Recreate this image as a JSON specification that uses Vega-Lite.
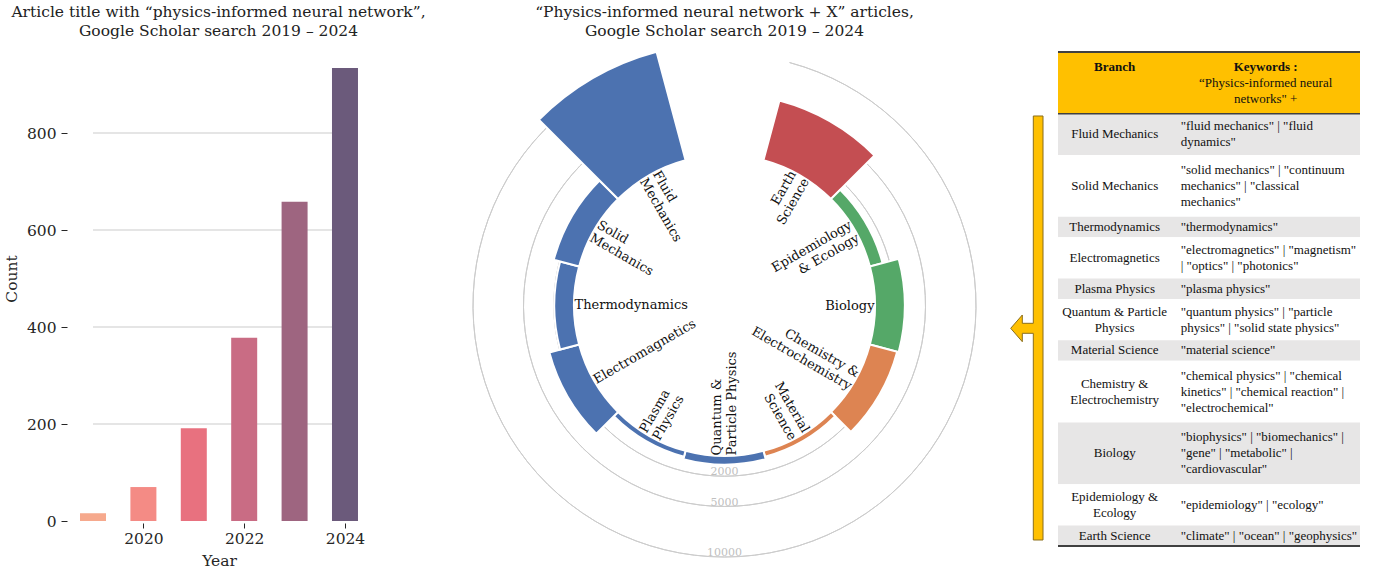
{
  "$schema": "https://vega.github.io/schema/vega-lite/v6.json",
  "autosize": {"type": "pad"},
  "padding": {"left": 4, "top": 4, "right": 5, "bottom": 0},
  "background": "white",
  "spacing": 64,
  "bounds": "flush",
  "resolve": {
    "scale": {"x": "independent", "y": "independent", "color": "independent"},
    "axis": {"x": "independent", "y": "independent"}
  },
  "datasets": {
    "years": [
      {"year": 2019, "count": 16},
      {"year": 2020, "count": 70},
      {"year": 2021, "count": 191},
      {"year": 2022, "count": 378},
      {"year": 2023, "count": 658},
      {"year": 2024, "count": 934}
    ],
    "branches": [
      {"idx": 0, "branch": "Earth Science", "label": "Earth\nScience", "group": "Earth", "articles": 6100},
      {"idx": 1, "branch": "Epidemiology & Ecology", "label": "Epidemiology\n& Ecology", "group": "Life", "articles": 1300},
      {"idx": 2, "branch": "Biology", "label": "Biology", "group": "Life", "articles": 2950},
      {"idx": 3, "branch": "Chemistry & Electrochemistry", "label": "Chemistry &\nElectrochemistry", "group": "Chemistry", "articles": 2800},
      {"idx": 4, "branch": "Material Science", "label": "Material\nScience", "group": "Chemistry", "articles": 600},
      {"idx": 5, "branch": "Quantum & Particle Physics", "label": "Quantum &\nParticle Physics", "group": "Physics", "articles": 850},
      {"idx": 6, "branch": "Plasma Physics", "label": "Plasma\nPhysics", "group": "Physics", "articles": 600},
      {"idx": 7, "branch": "Electromagnetics", "label": "Electromagnetics", "group": "Physics", "articles": 3050},
      {"idx": 8, "branch": "Thermodynamics", "label": "Thermodynamics", "group": "Physics", "articles": 1950},
      {"idx": 9, "branch": "Solid Mechanics", "label": "Solid\nMechanics", "group": "Physics", "articles": 2600},
      {"idx": 10, "branch": "Fluid Mechanics", "label": "Fluid\nMechanics", "group": "Physics", "articles": 11100}
    ],
    "table": [
      {"idx": 0, "lines": 3, "branch": "Branch", "kwhead": "Keywords :", "keywords": "“Physics-informed neural\nnetworks\"  +"},
      {"idx": 1, "lines": 2, "branch": "Fluid Mechanics", "keywords": "\"fluid mechanics\" | \"fluid\ndynamics\""},
      {"idx": 2, "lines": 3, "branch": "Solid Mechanics", "keywords": "\"solid mechanics\" | \"continuum\nmechanics\" | \"classical\nmechanics\""},
      {"idx": 3, "lines": 1, "branch": "Thermodynamics", "keywords": "\"thermodynamics\""},
      {"idx": 4, "lines": 2, "branch": "Electromagnetics", "keywords": "\"electromagnetics\" | \"magnetism\"\n| \"optics\" | \"photonics\""},
      {"idx": 5, "lines": 1, "branch": "Plasma Physics", "keywords": "\"plasma physics\""},
      {"idx": 6, "lines": 2, "branch": "Quantum & Particle\nPhysics", "keywords": "\"quantum physics\" | \"particle\nphysics\" | \"solid state physics\""},
      {"idx": 7, "lines": 1, "branch": "Material Science", "keywords": "\"material science\""},
      {"idx": 8, "lines": 3, "branch": "Chemistry &\nElectrochemistry", "keywords": "\"chemical physics\" | \"chemical\nkinetics\" | \"chemical reaction\" |\n\"electrochemical\""},
      {"idx": 9, "lines": 3, "branch": "Biology", "keywords": "\"biophysics\" | \"biomechanics\" |\n\"gene\" | \"metabolic\" |\n\"cardiovascular\""},
      {"idx": 10, "lines": 2, "branch": "Epidemiology &\nEcology", "keywords": "\"epidemiology\" | \"ecology\""},
      {"idx": 11, "lines": 1, "branch": "Earth Science", "keywords": "\"climate\" | \"ocean\" | \"geophysics\""}
    ]
  },
  "hconcat": [
    {
      "width": 298,
      "height": 485,
      "title": {"text": ["Article title with “physics-informed neural network”,", "Google Scholar search 2019 – 2024"], "dx": -23.5},
      "encoding": {
        "y": {"field": "count", "type": "quantitative", "scale": {"domain": [0, 1000], "nice": false},
              "axis": {"values": [0, 200, 400, 600, 800], "offset": 26, "tickSize": 6, "labelPadding": 5, "title": "Count", "titlePadding": 7}}
      },
      "layer": [
        {
          "data": {"values": [{"count": 200}, {"count": 400}, {"count": 600}, {"count": 800}]},
          "mark": {"type": "rule", "color": "#cccccc", "strokeWidth": 1.1},
          "encoding": {"x": {"datum": 2019, "type": "quantitative"}, "x2": {"datum": 2024}}
        },
        {
          "data": {"name": "years"},
          "mark": {"type": "bar", "width": 26, "orient": "vertical"},
          "encoding": {
            "x": {"field": "year", "type": "quantitative", "scale": {"domain": [2019, 2024.913], "nice": false, "zero": false, "padding": 0},
                  "axis": {"values": [2020, 2022, 2024], "format": "d", "offset": 2, "tickSize": 5, "labelPadding": 3, "title": "Year", "titleX": 126, "titlePadding": 7}},
            "color": {"field": "year", "type": "ordinal", "legend": null,
                      "scale": {"range": ["#f6a98d", "#f48b85", "#e8717f", "#c96c84", "#9e6580", "#6b5a7b"]}}
          }
        }
      ]
    },
    {
      "width": 539,
      "height": 539,
      "title": {"text": ["“Physics-informed neural network + X” articles,", "Google Scholar search 2019 – 2024"]},
      "resolve": {"scale": {"theta": "independent"}},
      "layer": [
        {
          "data": {"values": [{"v": 2000}, {"v": 5000}, {"v": 10000}]},
          "mark": {"type": "arc", "filled": false, "stroke": "#cccccc", "strokeWidth": 1},
          "encoding": {
            "theta": {"datum": 0, "type": "quantitative", "scale": {"type": "linear", "domain": [0, 11], "range": [0.2618, 6.0214], "zero": false, "nice": false}},
            "theta2": {"datum": 11},
            "radius": {"field": "v", "type": "quantitative", "scale": {"type": "linear", "domain": [0, 12000], "range": [150.5, 271.7], "zero": false, "nice": false}},
            "radius2": {"field": "v"}
          }
        },
        {
          "data": {"name": "branches"},
          "mark": {"type": "arc", "stroke": "white", "strokeWidth": 2},
          "encoding": {
            "theta": {"field": "idx", "type": "ordinal", "scale": {"type": "band", "domain": [0, 1, 2, 3, 4, 5, 6, 7, 8, 9, 10], "range": [0.2618, 6.0214], "paddingInner": 0, "paddingOuter": 0}},
            "radius": {"field": "articles", "type": "quantitative", "scale": {"type": "linear", "domain": [0, 12000], "range": [150.5, 271.7], "zero": false, "nice": false}},
            "radius2": {"datum": 0},
            "color": {"field": "group", "type": "nominal", "legend": null,
                      "scale": {"domain": ["Physics", "Chemistry", "Life", "Earth"], "range": ["#4c72b0", "#dd8452", "#55a868", "#c44e52"]}}
          }
        },
        {
          "data": {"values": [{"v": 2000}, {"v": 5000}, {"v": 10000}]},
          "mark": {"type": "text", "align": "center", "baseline": "alphabetic", "fontSize": 11, "color": "#c0c0c0", "dy": -1},
          "encoding": {
            "theta": {"datum": 5.5, "type": "quantitative", "scale": {"type": "linear", "domain": [0, 11], "range": [0.2618, 6.0214], "zero": false, "nice": false}},
            "radius": {"field": "v", "type": "quantitative", "scale": {"type": "linear", "domain": [0, 12000], "range": [150.5, 271.7], "zero": false, "nice": false}},
            "text": {"field": "v", "type": "nominal"}
          }
        },
        {
          "data": {"name": "branches"},
          "mark": {"type": "text", "radius": 150, "align": "left", "baseline": "middle", "fontSize": 13, "lineBreak": "\n", "lineHeight": 15, "color": "#111"},
          "encoding": {
            "theta": {"field": "idx", "type": "ordinal", "bandPosition": 0.5, "scale": {"type": "band", "domain": [0, 1, 2, 3, 4, 5, 6, 7, 8, 9, 10], "range": [0.2618, 6.0214], "paddingInner": 0, "paddingOuter": 0}},
            "text": {"condition": {"test": "indexof([7, 8], datum.idx) >= 0", "field": "label", "type": "nominal"}, "value": ""},
            "angle": {"field": "idx", "type": "quantitative", "legend": null,
                      "scale": {"type": "threshold", "domain": [0.5, 1.5, 2.5, 3.5, 4.5, 5.5, 6.5, 7.5, 8.5, 9.5], "range": [-60, -30, 0, 30, 60, -90, -60, -30, 0, 30, 60]}}
          }
        },
        {
          "data": {"name": "branches"},
          "mark": {"type": "text", "radius": 150, "align": "left", "baseline": "middle", "fontSize": 13, "lineBreak": "\n", "lineHeight": 15, "dy": -7.5, "color": "#111"},
          "encoding": {
            "theta": {"field": "idx", "type": "ordinal", "bandPosition": 0.5, "scale": {"type": "band", "domain": [0, 1, 2, 3, 4, 5, 6, 7, 8, 9, 10], "range": [0.2618, 6.0214], "paddingInner": 0, "paddingOuter": 0}},
            "text": {"condition": {"test": "indexof([5, 6, 9, 10], datum.idx) >= 0", "field": "label", "type": "nominal"}, "value": ""},
            "angle": {"field": "idx", "type": "quantitative", "legend": null,
                      "scale": {"type": "threshold", "domain": [0.5, 1.5, 2.5, 3.5, 4.5, 5.5, 6.5, 7.5, 8.5, 9.5], "range": [-60, -30, 0, 30, 60, -90, -60, -30, 0, 30, 60]}}
          }
        },
        {
          "data": {"name": "branches"},
          "mark": {"type": "text", "radius": 150, "align": "right", "baseline": "middle", "fontSize": 13, "lineBreak": "\n", "lineHeight": 15, "color": "#111"},
          "encoding": {
            "theta": {"field": "idx", "type": "ordinal", "bandPosition": 0.5, "scale": {"type": "band", "domain": [0, 1, 2, 3, 4, 5, 6, 7, 8, 9, 10], "range": [0.2618, 6.0214], "paddingInner": 0, "paddingOuter": 0}},
            "text": {"condition": {"test": "datum.idx == 2", "field": "label", "type": "nominal"}, "value": ""},
            "angle": {"field": "idx", "type": "quantitative", "legend": null,
                      "scale": {"type": "threshold", "domain": [0.5, 1.5, 2.5, 3.5, 4.5, 5.5, 6.5, 7.5, 8.5, 9.5], "range": [-60, -30, 0, 30, 60, -90, -60, -30, 0, 30, 60]}}
          }
        },
        {
          "data": {"name": "branches"},
          "mark": {"type": "text", "radius": 150, "align": "right", "baseline": "middle", "fontSize": 13, "lineBreak": "\n", "lineHeight": 15, "dy": -7.5, "color": "#111"},
          "encoding": {
            "theta": {"field": "idx", "type": "ordinal", "bandPosition": 0.5, "scale": {"type": "band", "domain": [0, 1, 2, 3, 4, 5, 6, 7, 8, 9, 10], "range": [0.2618, 6.0214], "paddingInner": 0, "paddingOuter": 0}},
            "text": {"condition": {"test": "indexof([0, 1, 3, 4], datum.idx) >= 0", "field": "label", "type": "nominal"}, "value": ""},
            "angle": {"field": "idx", "type": "quantitative", "legend": null,
                      "scale": {"type": "threshold", "domain": [0.5, 1.5, 2.5, 3.5, 4.5, 5.5, 6.5, 7.5, 8.5, 9.5], "range": [-60, -30, 0, 30, 60, -90, -60, -30, 0, 30, 60]}}
          }
        }
      ]
    },
    {
      "width": 302,
      "height": 510,
      "layer": [
        {
          "data": {"name": "table"},
          "mark": {"type": "bar", "width": 302, "orient": "vertical"},
          "encoding": {
            "x": {"datum": 0.5, "type": "quantitative", "scale": {"domain": [0, 1], "nice": false, "zero": false, "padding": 0}, "axis": null},
            "y": {"field": "lines", "type": "quantitative", "stack": "zero", "scale": {"domain": [-0.7773, 24], "reverse": true, "nice": false, "zero": false}, "axis": null},
            "order": {"field": "idx", "type": "quantitative"},
            "color": {"field": "idx", "type": "ordinal", "legend": null,
                      "scale": {"domain": [0, 1, 2, 3, 4, 5, 6, 7, 8, 9, 10, 11], "range": ["#ffc000", "#e7e6e6", "#ffffff", "#e7e6e6", "#ffffff", "#e7e6e6", "#ffffff", "#e7e6e6", "#ffffff", "#e7e6e6", "#ffffff", "#e7e6e6"]}}
          }
        },
        {
          "data": {"values": [{}]},
          "mark": {"type": "rule", "color": "#404040", "strokeWidth": 2},
          "encoding": {"x": {"datum": 0}, "x2": {"datum": 1}, "y": {"datum": 0}}
        },
        {
          "data": {"values": [{}]},
          "mark": {"type": "rule", "color": "#404040", "strokeWidth": 1.5},
          "encoding": {"x": {"datum": 0}, "x2": {"datum": 1}, "y": {"datum": 3}}
        },
        {
          "data": {"values": [{}]},
          "mark": {"type": "rule", "color": "#404040", "strokeWidth": 2},
          "encoding": {"x": {"datum": 0}, "x2": {"datum": 1}, "y": {"datum": 24}}
        },
        {
          "data": {"name": "table"},
          "mark": {"type": "text", "align": "center", "baseline": "middle", "font": "Liberation Serif", "fontSize": 13, "lineBreak": "\n", "lineHeight": 16, "color": "#111"},
          "encoding": {
            "x": {"datum": 0.1877},
            "y": {"field": "lines", "type": "quantitative", "stack": "zero", "bandPosition": 0.5},
            "order": {"field": "idx", "type": "quantitative"},
            "text": {"condition": {"test": "datum.idx > 0 && indexof([6, 8, 10], datum.idx) < 0", "field": "branch", "type": "nominal"}, "value": ""}
          }
        },
        {
          "data": {"name": "table"},
          "mark": {"type": "text", "align": "center", "baseline": "middle", "font": "Liberation Serif", "fontSize": 13, "lineBreak": "\n", "lineHeight": 16, "dy": -8, "color": "#111"},
          "encoding": {
            "x": {"datum": 0.1877},
            "y": {"field": "lines", "type": "quantitative", "stack": "zero", "bandPosition": 0.5},
            "order": {"field": "idx", "type": "quantitative"},
            "text": {"condition": {"test": "indexof([6, 8, 10], datum.idx) >= 0", "field": "branch", "type": "nominal"}, "value": ""}
          }
        },
        {
          "data": {"name": "table"},
          "mark": {"type": "text", "align": "center", "baseline": "middle", "font": "Liberation Serif", "fontSize": 13, "fontWeight": "bold", "dy": -16, "color": "#111"},
          "encoding": {
            "x": {"datum": 0.1877},
            "y": {"field": "lines", "type": "quantitative", "stack": "zero", "bandPosition": 0.5},
            "order": {"field": "idx", "type": "quantitative"},
            "text": {"condition": {"test": "datum.idx == 0", "field": "branch", "type": "nominal"}, "value": ""}
          }
        },
        {
          "data": {"name": "table"},
          "mark": {"type": "text", "align": "center", "baseline": "middle", "font": "Liberation Serif", "fontSize": 13, "fontWeight": "bold", "dy": -16, "color": "#111"},
          "encoding": {
            "x": {"datum": 0.6876},
            "y": {"field": "lines", "type": "quantitative", "stack": "zero", "bandPosition": 0.5},
            "order": {"field": "idx", "type": "quantitative"},
            "text": {"condition": {"test": "datum.idx == 0", "field": "kwhead", "type": "nominal"}, "value": ""}
          }
        },
        {
          "data": {"name": "table"},
          "mark": {"type": "text", "align": "center", "baseline": "middle", "font": "Liberation Serif", "fontSize": 13, "lineBreak": "\n", "lineHeight": 16, "color": "#111"},
          "encoding": {
            "x": {"datum": 0.6876},
            "y": {"field": "lines", "type": "quantitative", "stack": "zero", "bandPosition": 0.5},
            "order": {"field": "idx", "type": "quantitative"},
            "text": {"condition": {"test": "datum.idx == 0", "field": "keywords", "type": "nominal"}, "value": ""}
          }
        },
        {
          "data": {"name": "table"},
          "mark": {"type": "text", "align": "left", "baseline": "middle", "font": "Liberation Serif", "fontSize": 13, "lineBreak": "\n", "lineHeight": 16, "color": "#111"},
          "encoding": {
            "x": {"datum": 0.4063},
            "y": {"field": "lines", "type": "quantitative", "stack": "zero", "bandPosition": 0.5},
            "order": {"field": "idx", "type": "quantitative"},
            "text": {"condition": {"test": "indexof([3, 5, 7, 10, 11], datum.idx) >= 0", "field": "keywords", "type": "nominal"}, "value": ""}
          }
        },
        {
          "data": {"name": "table"},
          "mark": {"type": "text", "align": "left", "baseline": "middle", "font": "Liberation Serif", "fontSize": 13, "lineBreak": "\n", "lineHeight": 16, "dy": -8, "color": "#111"},
          "encoding": {
            "x": {"datum": 0.4063},
            "y": {"field": "lines", "type": "quantitative", "stack": "zero", "bandPosition": 0.5},
            "order": {"field": "idx", "type": "quantitative"},
            "text": {"condition": {"test": "indexof([1, 4, 6], datum.idx) >= 0", "field": "keywords", "type": "nominal"}, "value": ""}
          }
        },
        {
          "data": {"name": "table"},
          "mark": {"type": "text", "align": "left", "baseline": "middle", "font": "Liberation Serif", "fontSize": 13, "lineBreak": "\n", "lineHeight": 16, "dy": -16, "color": "#111"},
          "encoding": {
            "x": {"datum": 0.4063},
            "y": {"field": "lines", "type": "quantitative", "stack": "zero", "bandPosition": 0.5},
            "order": {"field": "idx", "type": "quantitative"},
            "text": {"condition": {"test": "indexof([2, 8, 9], datum.idx) >= 0", "field": "keywords", "type": "nominal"}, "value": ""}
          }
        },
        {
          "data": {"values": [{}]},
          "mark": {"type": "point", "shape": "M-0.15,-1.83 L-0.15,2.41 L-0.247,2.41 L-0.247,0.343 L-0.357,0.343 L-0.357,0.427 L-0.473,0.293 L-0.357,0.16 L-0.357,0.243 L-0.247,0.243 L-0.247,-1.83 Z", "size": 40000, "filled": true, "fill": "#ffc000", "stroke": "#8a6d1a", "strokeWidth": 1, "opacity": 1},
          "encoding": {"x": {"datum": 0}, "y": {"datum": 12}}
        }
      ]
    }
  ],
  "config": {
    "view": {"stroke": null},
    "font": "DejaVu Serif",
    "title": {"font": "DejaVu Serif", "fontSize": 15.5, "fontWeight": "normal", "color": "#222222", "lineHeight": 19, "offset": -3},
    "axis": {"labelFont": "DejaVu Serif", "titleFont": "DejaVu Serif", "labelFontSize": 15.5, "titleFontSize": 15.5, "titleFontWeight": "normal", "labelColor": "#262626", "titleColor": "#262626", "tickColor": "#262626", "grid": false, "domain": false}
  }
}
